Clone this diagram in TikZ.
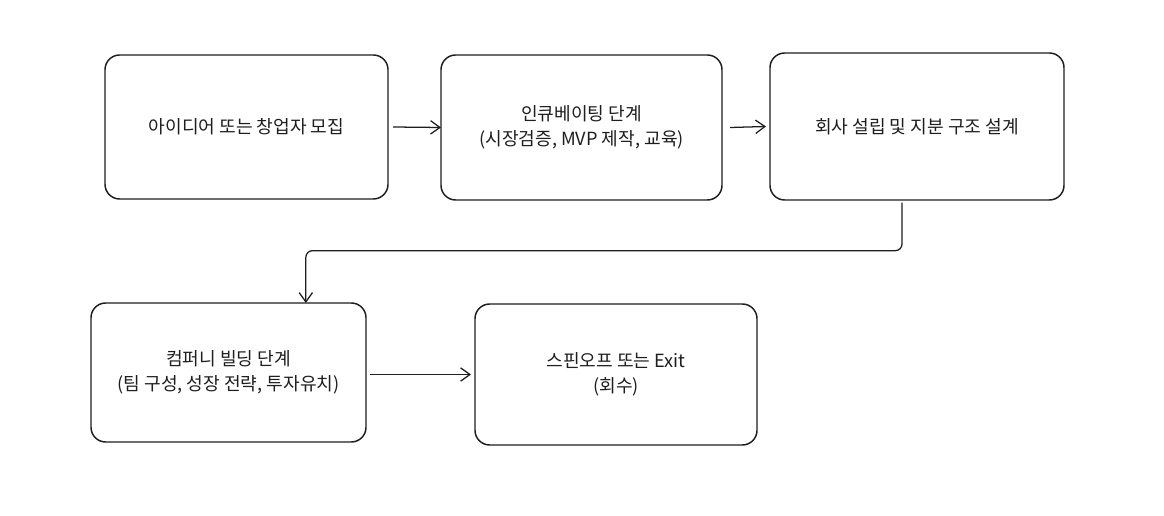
\documentclass[tikz,border=0pt]{standalone}
\usepackage{fontspec}
\setmainfont{Noto Sans CJK KR}
\usetikzlibrary{arrows.meta,calc}
\definecolor{ink}{HTML}{1E1E1E}
\tikzset{
  box/.style 2 args={draw=ink, line width=1.1pt, rounded corners=11pt, fill=white,
    minimum width={#1*0.75pt}, minimum height={#2*0.75pt}, inner sep=0pt, outer sep=0pt,
    align=center, text=ink, font=\fontsize{13.6pt}{18.5pt}\selectfont},
  arr/.style={draw=ink, line width=0.95pt, -{Straight Barb[length=7pt,width=10pt,line width=0.95pt]}},
}
\begin{document}
\begin{tikzpicture}[x=0.75pt,y=-0.75pt]
\useasboundingbox (0,0) rectangle (1164,516);
\node[box={283}{144}] (b1) at (246.5,127) {아이디어 또는 창업자 모집};
\node[box={281}{145}] (b2) at (581.5,127.5) {인큐베이팅 단계\\(시장검증, MVP 제작, 교육)};
\node[box={294}{147}] (b3) at (917,126.5) {회사 설립 및 지분 구조 설계};
\node[box={275}{139}] (b4) at (228.5,372.5) {컴퍼니 빌딩 단계\\(팀 구성, 성장 전략, 투자유치)};
\node[box={282}{141}] (b5) at (616,374.5) {스핀오프 또는 Exit\\(회수)};
\coordinate (a4) at ([xshift=3pt,yshift=-1.5pt]b4.east);
\draw[arr] ([xshift=3.75pt]b1.east) -- (b2.west);
\draw[arr] ([xshift=6pt]b2.east) -- ([xshift=-3pt]b3.west);
\draw[arr, rounded corners=5pt] ([xshift=-11.25pt,yshift=-2pt]b3.south) -- ++(0,48) -| ([xshift=58pt]b4.north);
\draw[arr] (a4) -- ($(a4 -| b5.west)+(-4,0)$);
\end{tikzpicture}
\end{document}
